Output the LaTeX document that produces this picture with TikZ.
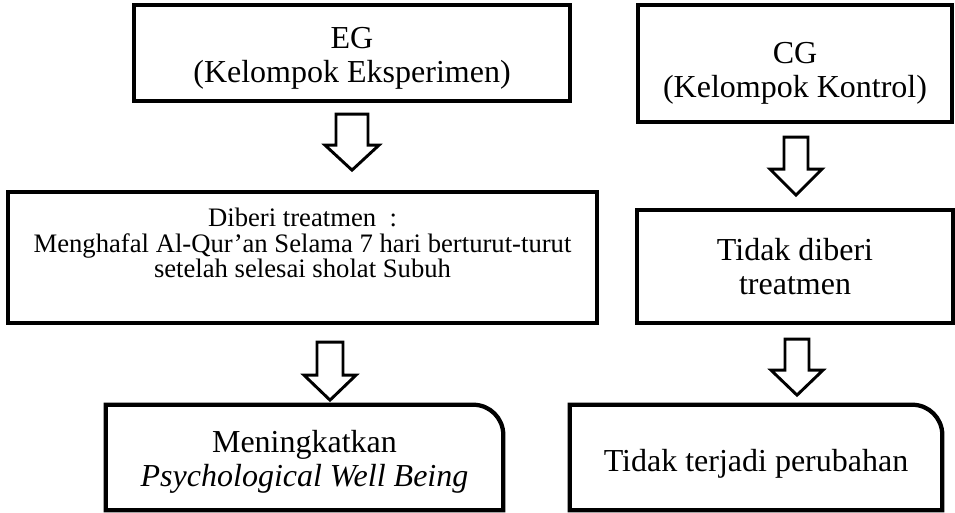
\documentclass[tikz,border=0pt]{standalone}
\usepackage{fontspec}
\setmainfont{Liberation Serif}
\usetikzlibrary{calc}

\begin{document}
\begin{tikzpicture}[x=0.75pt, y=0.75pt,
    box/.style={draw, line width=3.2pt, align=center, inner sep=0pt},
    openbox/.style={align=center, inner sep=0pt},
    bigtext/.style={font=\fontsize{24}{26}\selectfont},
    smalltext/.style={font=\fontsize{20}{19}\selectfont},
    hollow/.style={draw, line width=2.2pt, line join=miter, fill=white}]

    \useasboundingbox (0,0) rectangle (955,-513);

    % Kelompok eksperimen
    \node[box, bigtext, text height=50pt, minimum width=327pt, minimum height=72pt] (EG) at (352,-53)
        {EG\\(Kelompok Eksperimen)};
    \node[box, smalltext, text depth=22pt, minimum width=441.75pt, minimum height=98.25pt] (treat) at (302.5,-257.5)
        {Diberi treatmen \ :\\Menghafal Al-Qur'an Selama 7 hari berturut-turut\\setelah selesai sholat Subuh};
    \node[openbox, bigtext, text height=49pt, minimum width=297.75pt, minimum height=78.75pt] (naik) at (304.5,-457.5)
        {Meningkatkan\\\textit{Psychological Well Being}};

    % Kelompok kontrol
    \node[box, bigtext, text height=56.5pt, minimum width=235.5pt, minimum height=87.75pt] (CG) at (795,-63.5)
        {CG\\(Kelompok Kontrol)};
    \node[box, bigtext, minimum width=237pt, minimum height=84.75pt] (notreat) at (795,-266.5)
        {Tidak diberi\\treatmen};
    \node[openbox, bigtext, text height=26.4pt, minimum width=279pt, minimum height=78.75pt] (tetap) at (756,-457.5)
        {Tidak terjadi perubahan};

    % Bottom boxes with one rounded corner
    \draw[line width=3.2pt] (naik.south west) -- (naik.north west)
        -- ([xshift=-22.5pt]naik.north east) arc[start angle=90, end angle=0, radius=22.5pt]
        -- (naik.south east) -- cycle;
    \draw[line width=3.2pt] (tetap.south west) -- (tetap.north west)
        -- ([xshift=-22.5pt]tetap.north east) arc[start angle=90, end angle=0, radius=22.5pt]
        -- (tetap.south east) -- cycle;

    % Hollow arrows
    \coordinate (a1) at ($(EG.south)+(0,-11)$);
    \draw[hollow] (a1) ++(-16,0) -- ++(32,0) -- ++(0,-31) -- ++(11,0)
        -- ++(-27,-25) -- ++(-27,25) -- ++(11,0) -- cycle;

    \coordinate (a2) at ($(CG.south)+(1,-13)$);
    \draw[hollow] (a2) ++(-12,0) -- ++(24,0) -- ++(0,-32) -- ++(14,0)
        -- ++(-26,-26) -- ++(-26,26) -- ++(14,0) -- cycle;

    \coordinate (a3) at ($(treat.south)+(27.5,-17)$);
    \draw[hollow] (a3) ++(-13,0) -- ++(26,0) -- ++(0,-33) -- ++(13,0)
        -- ++(-26,-25) -- ++(-26,25) -- ++(13,0) -- cycle;

    \coordinate (a4) at ($(notreat.south)+(2,-14)$);
    \draw[hollow] (a4) ++(-12,0) -- ++(24,0) -- ++(0,-31) -- ++(14,0)
        -- ++(-26,-25) -- ++(-26,25) -- ++(14,0) -- cycle;
\end{tikzpicture}
\end{document}
